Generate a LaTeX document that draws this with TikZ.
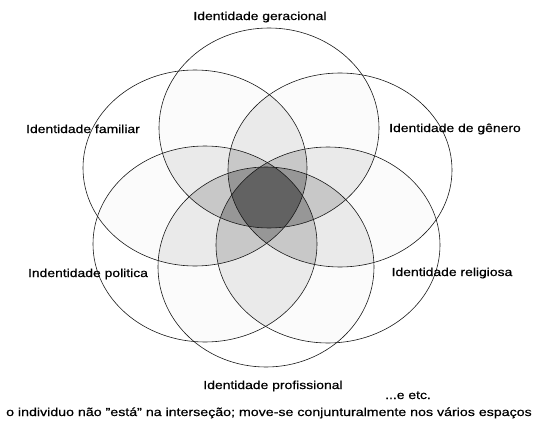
\documentclass[tikz,border=0pt]{standalone}
\usepackage{graphicx}
\usepackage{fontspec}
\setmainfont{Liberation Sans}[FakeStretch=1.2,FakeBold=0.6]
\newcommand\EA[1]{\path[#1] (269,128) ellipse [x radius=110pt,y radius=100pt];}
\newcommand\EB[1]{\path[#1] (340,170) ellipse [x radius=112pt,y radius=97pt];}
\newcommand\EC[1]{\path[#1] (328,245) ellipse [x radius=112pt,y radius=98pt];}
\newcommand\ED[1]{\path[#1] (266,267) ellipse [x radius=108pt,y radius=100pt];}
\newcommand\EE[1]{\path[#1] (205,244) ellipse [x radius=112pt,y radius=98pt];}
\newcommand\EF[1]{\path[#1] (195,168) ellipse [x radius=112pt,y radius=98pt];}
\begin{document}
\begin{tikzpicture}[x=1pt,y=-1pt,
  lbl/.style={font=\fontsize{11.6}{13}\selectfont, inner sep=0pt, anchor=base},
  ring/.style={draw=black!90, line width=0.6pt},
  pairfill/.style={fill=black, fill opacity=0.015},
  tripfill/.style={fill=black, fill opacity=0.035}]
\useasboundingbox (0,0) rectangle (539,423);
% faint shading of every two-way overlap
\foreach \i/\j in {A/B,A/C,A/D,A/E,A/F,B/C,B/D,B/E,B/F,C/D,C/E,C/F,D/E,D/F,E/F}{
  \begin{scope}
    \csname E\i\endcsname{clip}
    \csname E\j\endcsname{pairfill}
  \end{scope}
}
% stronger shading of every three-way overlap
\foreach \i/\j/\k in {A/B/C,A/B/D,A/B/E,A/B/F,A/C/D,A/C/E,A/C/F,A/D/E,A/D/F,A/E/F,
                      B/C/D,B/C/E,B/C/F,B/D/E,B/D/F,B/E/F,C/D/E,C/D/F,C/E/F,D/E/F}{
  \begin{scope}
    \csname E\i\endcsname{clip}
    \csname E\j\endcsname{clip}
    \csname E\k\endcsname{tripfill}
  \end{scope}
}
\foreach \i in {A,B,C,D,E,F}{\csname E\i\endcsname{ring}}
\node[lbl] (ger) at (260,20) {Identidade geracional};
\node[lbl] (fam) at (83,133) {Identidade familiar};
\node[lbl] (gen) at (455,132) {Identidade de gênero};
\node[lbl] (pol) at (88,277) {Indentidade politica};
\node[lbl] (rel) at (452,276) {Identidade religiosa};
\node[lbl] (pro) at (273,389) {Identidade profissional};
\node[lbl] (etc) at (408,399) {...e etc.};
\node[lbl] (obs) at (269,416) {\scalebox{1.02}[1]{o individuo não "está" na interseção; move-se conjunturalmente nos vários espaços}};
\end{tikzpicture}
\end{document}
